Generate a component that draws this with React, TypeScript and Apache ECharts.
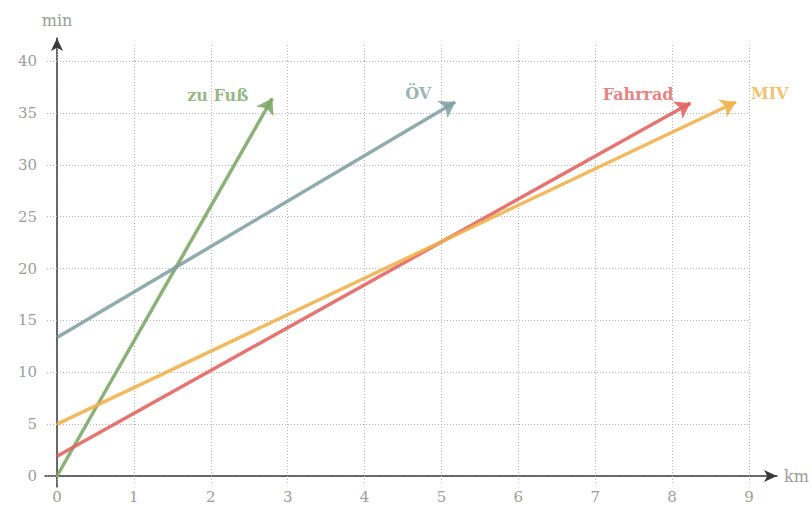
import React, { useEffect, useRef } from 'react';
import * as echarts from 'echarts';

// Modes of transport
const categories = ['zu Fuß', 'ÖV', 'Fahrrad', 'MIV'];
// start point (km, min)
const startKm = [0, 0, 0, 0];
const startMin = [0, 13.35, 1.9, 5.0];
// end point (arrow tip) of each line (km, min)
const endKm = [2.8, 5.18, 8.24, 8.83];
const endMin = [36.4, 36.05, 35.95, 36.05];

const colors = ['#7ba565', '#7f9fa3', '#e0625f', '#efb04a'];
// label placement relative to arrow tip
const labelSide = ['left', 'left', 'left', 'right'];
const labelDist = [24, 24, 17, 15];
const labelDy = [-3, -8, -9, -8];

const GRID_COLOR = '#b5b5b5';
const TEXT_GRAY = '#9c9c9c';
const FONT = 'DejaVu Serif';

export default function App() {
  const ref = useRef<HTMLDivElement>(null);
  useEffect(() => {
    if (!ref.current) return;
    const chart = echarts.init(ref.current, null, { renderer: 'svg' });
    const gridLine = { color: GRID_COLOR, width: 1, type: [1, 2] as any };
    const hiddenAxis = (extra: any) => ({
      type: 'value',
      min: 0,
      max: 1,
      axisLabel: { show: false },
      axisTick: { show: false },
      splitLine: { show: false },
      ...extra,
    });

    const lineSeries = categories.map((name, i) => ({
      type: 'lines',
      name,
      coordinateSystem: 'cartesian2d',
      xAxisIndex: 0,
      yAxisIndex: 0,
      polyline: false,
      symbol: ['none', 'arrow'],
      symbolSize: 15,
      lineStyle: { color: colors[i], width: 3.5, opacity: 0.88, curveness: 0 },
      z: 5,
      data: [
        {
          coords: [
            [startKm[i], startMin[i]],
            [endKm[i], endMin[i]],
          ],
        },
      ],
    }));

    const labelSeries = {
      type: 'scatter',
      xAxisIndex: 0,
      yAxisIndex: 0,
      symbolSize: 0,
      silent: true,
      z: 6,
      data: categories.map((name, i) => ({
        value: [endKm[i], endMin[i]],
        label: {
          show: true,
          formatter: name,
          position: labelSide[i],
          distance: labelDist[i],
          offset: [0, labelDy[i]],
          color: colors[i],
          fontFamily: FONT,
          fontWeight: 'bold',
          fontSize: 16,
        },
      })),
    };

    chart.setOption({
      animation: false,
      backgroundColor: '#ffffff',
      grid: [
        { left: 57, top: 61, width: 692, height: 415 },
        { left: 45, top: 400, width: 732, height: 76 },
        { left: 57, top: 38, width: 100, height: 449 },
      ],
      xAxis: [
        {
          type: 'value',
          gridIndex: 0,
          min: 0,
          max: 9,
          interval: 1,
          position: 'bottom',
          axisLine: { show: false },
          axisTick: { show: true, length: 8, inside: false, lineStyle: gridLine },
          axisLabel: {
            margin: 13,
            color: TEXT_GRAY,
            fontFamily: FONT,
            fontSize: 15,
          },
          splitLine: { show: true, lineStyle: gridLine },
        },
        {
          type: 'value',
          gridIndex: 0,
          min: 0,
          max: 9,
          interval: 1,
          position: 'top',
          axisLine: { show: false },
          axisTick: { show: true, length: 18, inside: false, lineStyle: gridLine },
          axisLabel: { show: false },
          splitLine: { show: false },
        },
        hiddenAxis({
          gridIndex: 1,
          position: 'bottom',
          axisLine: {
            show: true,
            onZero: false,
            symbol: ['none', 'arrow'],
            symbolSize: [9, 13],
            lineStyle: { color: '#3a3a3a', width: 1.5 },
          },
          name: 'km',
          nameLocation: 'end',
          nameGap: 7,
          nameTextStyle: { color: TEXT_GRAY, fontFamily: FONT, fontSize: 16 },
        }),
        hiddenAxis({ gridIndex: 2, axisLine: { show: false } }),
      ],
      yAxis: [
        {
          type: 'value',
          gridIndex: 0,
          min: 0,
          max: 40,
          interval: 5,
          axisLine: { show: false },
          axisTick: { show: true, length: 12, inside: false, lineStyle: gridLine },
          axisLabel: {
            margin: 20,
            color: TEXT_GRAY,
            fontFamily: FONT,
            fontSize: 15,
          },
          splitLine: { show: true, lineStyle: gridLine },
        },
        hiddenAxis({ gridIndex: 1, axisLine: { show: false } }),
        hiddenAxis({
          gridIndex: 2,
          position: 'left',
          axisLine: {
            show: true,
            onZero: false,
            symbol: ['none', 'arrow'],
            symbolSize: [9, 13],
            lineStyle: { color: '#3a3a3a', width: 1.5 },
          },
          name: 'min',
          nameLocation: 'end',
          nameGap: 10,
          nameTextStyle: { color: TEXT_GRAY, fontFamily: FONT, fontSize: 16, align: 'center' },
        }),
      ],
      series: [...lineSeries, labelSeries],
    });
    return () => chart.dispose();
  }, []);
  return (
    <div
      ref={ref}
      style={{ position: 'fixed', left: 0, top: 0, width: 812, height: 507 }}
    />
  );
}
